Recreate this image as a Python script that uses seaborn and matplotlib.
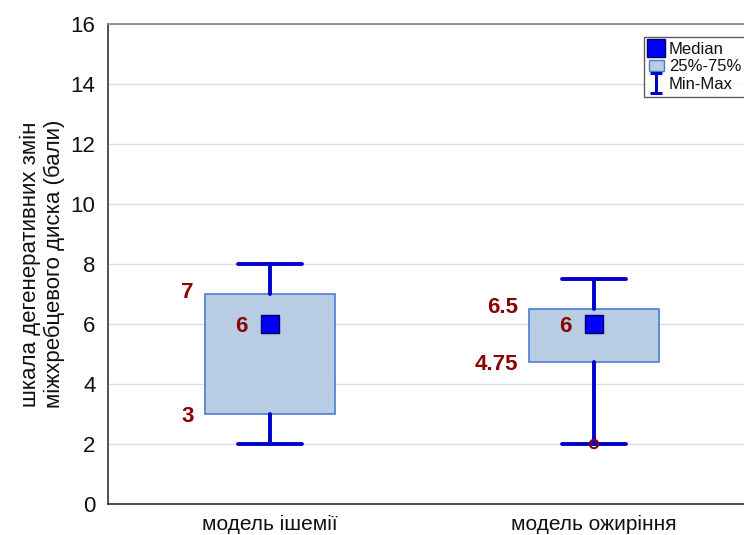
import matplotlib
matplotlib.use("Agg")
import matplotlib.pyplot as plt
import seaborn as sns
import pandas as pd
from matplotlib.lines import Line2D
from matplotlib.patches import Patch
from matplotlib.path import Path

# data
groups = ["модель ішемії", "модель ожиріння"]
mins = [2, 2]
q1s = [3, 4.75]
medians = [6, 6]
q3s = [7, 6.5]
maxs = [8, 7.5]
outlier_x = ["модель ожиріння"]
outlier_y = [2]

y_label = "шкала дегенеративних змін\nміжхребцевого диска (бали)"

sns.set_theme(style="white")
plt.rcParams['font.family'] = ['Liberation Sans', 'DejaVu Sans']
plt.rcParams['text.color'] = "#111111"
plt.rcParams['xtick.color'] = "#111111"
plt.rcParams['ytick.color'] = "#111111"
plt.rcParams['axes.labelcolor'] = "#111111"

fig = plt.figure(figsize=(7.44, 5.35), dpi=100)
ax = fig.add_axes([108 / 744, 31 / 535, 648 / 744, 480 / 535])

box_face = "#B8CCE4"
box_edge = "#4A7FD0"
whisk = "#0000CC"
lab_col = "#8B0000"

stats = []
for i, g in enumerate(groups):
    stats.append(dict(label=g, whislo=mins[i], q1=q1s[i], med=medians[i],
                      q3=q3s[i], whishi=maxs[i], fliers=[]))

ax.bxp(stats, positions=range(len(groups)), widths=0.4, patch_artist=True,
       showfliers=False,
       boxprops=dict(facecolor=box_face, edgecolor=box_edge, linewidth=1.2),
       whiskerprops=dict(color=whisk, linewidth=2.8),
       capprops=dict(color=whisk, linewidth=2.8),
       medianprops=dict(linewidth=0), capwidths=0.2, zorder=3)

df = pd.DataFrame({"group": groups, "median": medians})
sns.scatterplot(data=df, x="group", y="median", marker="s", s=160,
                color="#0000FF", edgecolor="#000060", linewidth=1,
                ax=ax, zorder=5, legend=False)
sns.scatterplot(x=outlier_x, y=outlier_y, marker="o", s=36,
                facecolor="none", edgecolor=lab_col, linewidth=1.5,
                ax=ax, zorder=6, legend=False)

# value labels
for i in range(len(groups)):
    kw = dict(color=lab_col, fontsize=16, fontweight="bold", ha="right", va="center")
    ax.text(i - 0.235, q3s[i] + 0.05, f"{q3s[i]:g}", **kw)
    ax.text(i - 0.235, q1s[i] - 0.1, f"{q1s[i]:g}", **kw)
    ax.text(i - 0.07, medians[i] - 0.1, f"{medians[i]:g}", **kw)

ax.set_xlim(-0.5, 1.5)
ax.set_ylim(0, 16)
ax.set_yticks(range(0, 17, 2))
ax.set_xticks(range(len(groups)))
ax.set_xticklabels(groups, fontsize=15)
ax.tick_params(axis="y", labelsize=16, length=0, pad=9)
ax.tick_params(axis="x", direction="in", length=3, color="#333333", pad=8)
ax.grid(axis="y", color="#DDDDDD", linewidth=1)
ax.set_axisbelow(True)
ax.set_xlabel("")
ax.set_ylabel(y_label, fontsize=16, linespacing=1.15, labelpad=4)
for s in ["left", "bottom"]:
    ax.spines[s].set_color("#333333")
    ax.spines[s].set_linewidth(1.2)
ax.spines["top"].set_color("#888888")
ax.spines["right"].set_visible(False)

ibeam = Path([(-0.6, 1), (0.6, 1), (0, 1), (0, -1), (-0.6, -1), (0.6, -1)],
             [Path.MOVETO, Path.LINETO, Path.MOVETO, Path.LINETO,
              Path.MOVETO, Path.LINETO])
handles = [
    Line2D([], [], marker="s", linestyle="none", markersize=13,
           markerfacecolor="#0000FF", markeredgecolor="#000060"),
    Patch(facecolor=box_face, edgecolor=box_edge),
    Line2D([], [], marker=ibeam, linestyle="none", markersize=14,
           markeredgewidth=2.2, color=whisk),
]
fig.legend(handles, ["Median", "25%-75%", "Min-Max"], loc="upper right",
           bbox_to_anchor=(1.003, 1 - 37 / 535), frameon=True, fancybox=False,
           edgecolor="#333333", fontsize=12, handlelength=0.9,
           handletextpad=0.3, borderpad=0.3, labelspacing=0.15,
           borderaxespad=0)

fig.savefig("out.png", dpi=100)
